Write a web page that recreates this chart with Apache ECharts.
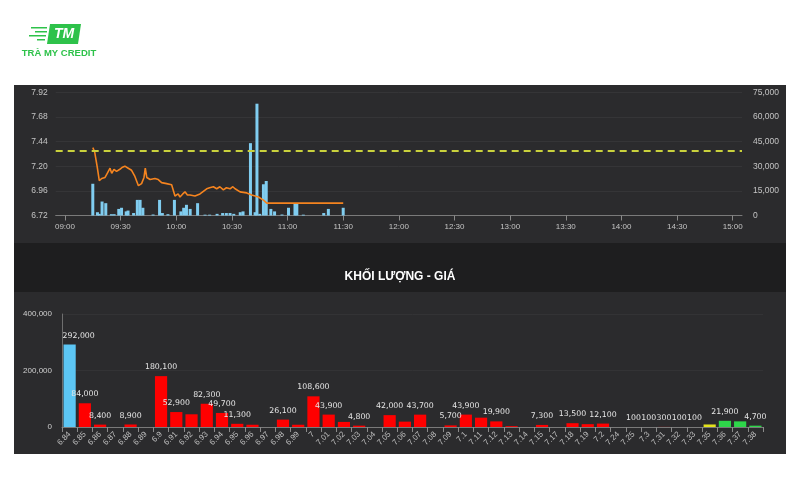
<!DOCTYPE html>
<html><head><meta charset="utf-8">
<script src="https://cdn.jsdelivr.net/npm/echarts@6/dist/echarts.min.js"></script>
<style>html,body{margin:0;padding:0;background:#fff}#c{width:800px;height:500px}</style>
</head><body><div id="c"></div>
<script>
// ---------- DATA ----------
// Top chart: minutes after 09:00
const timeTickMinutes = [0, 30, 60, 90, 120, 150, 180, 210, 240, 270, 300, 330, 360];
const volMinutes = [15, 17.5, 18.5, 20, 22, 25, 26.5, 29, 30.5, 33, 34, 37, 39, 40.5, 42, 47.5, 51, 52.5, 55.5, 59, 62.5, 64, 65.5, 67.5, 71.5, 75.5, 78, 82, 85, 87, 89, 91, 94.5, 96, 100, 102.5, 103.5, 105, 107, 108.5, 111, 113, 117, 120.5, 124, 125, 128.5, 139.5, 142, 150];
const volValues = [19300, 2000, 1000, 8500, 7500, 800, 800, 4000, 4700, 2500, 3000, 1500, 9500, 9500, 4700, 600, 9500, 1500, 800, 9500, 2500, 4700, 6500, 4000, 7500, 500, 500, 1000, 1500, 1500, 1500, 1000, 2000, 2500, 44000, 2000, 68000, 1000, 19000, 21000, 4000, 2500, 600, 4700, 7000, 7000, 500, 1500, 4000, 4700];
const priceMinutes = [15, 16, 17.4, 18.5, 19.8, 21.6, 22.5, 23.4, 24.3, 25.2, 26.4, 27.8, 29.6, 31, 32.3, 34.1, 35.9, 37.7, 39.6, 41.3, 42.6, 43.3, 44.1, 45.9, 48.5, 50.3, 52.1, 54.8, 57.5, 59.3, 61, 62, 63.5, 64.7, 66, 67.4, 70.1, 72.8, 76.4, 78, 80, 81.8, 83.5, 85.4, 87, 89, 90.5, 91, 91.7, 94.4, 98, 100.7, 104.3, 107, 108.8, 150];
const priceValues = [7.38, 7.34, 7.19, 7.06, 7.08, 7.09, 7.12, 7.11, 7.18, 7.13, 7.17, 7.15, 7.17, 7.19, 7.20, 7.18, 7.16, 7.10, 7.01, 7.03, 7.09, 7.18, 7.09, 7.07, 7.08, 7.07, 7.04, 7.03, 7.02, 6.91, 6.93, 6.90, 6.93, 6.95, 6.92, 6.92, 6.91, 6.93, 6.98, 6.99, 7.00, 6.98, 7.00, 6.97, 6.99, 6.98, 7.00, 7.01, 6.98, 6.95, 6.94, 6.92, 6.90, 6.87, 6.84, 6.84];
const referencePrice = 7.35;
const floorPrice = 6.84;

// Bottom chart: volume by price
const priceLevels = ['6.84','6.85','6.86','6.87','6.88','6.89','6.9','6.91','6.92','6.93','6.94','6.95','6.96','6.97','6.98','6.99','7','7.01','7.02','7.03','7.04','7.05','7.06','7.07','7.08','7.09','7.1','7.11','7.12','7.13','7.14','7.15','7.17','7.18','7.19','7.2','7.24','7.25','7.3','7.31','7.32','7.33','7.35','7.36','7.37','7.38'];
const levelVolumes = [292000, 84000, 8400, 100, 8900, 100, 180100, 52900, 45000, 82300, 49700, 11300, 8000, 100, 26100, 8000, 108600, 43900, 18000, 4800, 100, 42000, 19000, 43700, 100, 5700, 43900, 33000, 19900, 3000, 100, 7300, 100, 13500, 10000, 12100, 100, 100, 100, 300, 100, 100, 9000, 21900, 20000, 4700];

// ---------- HELPERS ----------
const fmt = v => String(v).replace(/\B(?=(\d{3})+(?!\d))/g, ',');
const pad = n => (n < 10 ? '0' : '') + n;
const hhmm = m => pad(9 + Math.floor(m / 60)) + ':' + pad(m % 60);
const levelColor = p => {
  const v = parseFloat(p);
  if (Math.abs(v - floorPrice) < 1e-9) return '#5cc6f4';
  if (Math.abs(v - referencePrice) < 1e-9) return '#e3e21c';
  return v > referencePrice ? '#2ed64a' : '#ff0000';
};

const volData = volMinutes.map((m, i) => [m, volValues[i]]);
const priceData = priceMinutes.map((m, i) => [m, priceValues[i]]);
const levelData = levelVolumes.map((v, i) => {
  const d = { value: v, itemStyle: { color: levelColor(priceLevels[i]) } };
  if (i === 0) d.label = { position: [-1, -5], align: 'left', verticalAlign: 'bottom' };
  return d;
});

const axisFont = 'Liberation Sans, Arial, sans-serif';
const chart = echarts.init(document.getElementById('c'), null, { renderer: 'canvas' });
chart.setOption({
  backgroundColor: '#ffffff',
  animation: false,
  title: {
    text: 'KHỐI LƯỢNG - GIÁ', left: 'center', top: 266,
    textStyle: { color: '#ffffff', fontSize: 12, fontWeight: 'bold', fontFamily: axisFont }
  },
  graphic: [
    { type: 'rect', z: -10, shape: { x: 14, y: 85, width: 772, height: 158 }, style: { fill: '#2b2b2d' }, silent: true },
    { type: 'rect', z: -10, shape: { x: 14, y: 243, width: 772, height: 49 }, style: { fill: '#1e1e1f' }, silent: true },
    { type: 'rect', z: -10, shape: { x: 14, y: 292, width: 772, height: 162 }, style: { fill: '#2b2b2d' }, silent: true },
    // logo
    { type: 'polygon', shape: { points: [[50, 24], [81, 24], [78, 44], [47, 44]] }, style: { fill: '#2ec24a' }, silent: true },
    { type: 'rect', shape: { x: 31, y: 27, width: 16, height: 1.5 }, style: { fill: '#2ec24a' }, silent: true },
    { type: 'rect', shape: { x: 35, y: 31, width: 12, height: 1.5 }, style: { fill: '#2ec24a' }, silent: true },
    { type: 'rect', shape: { x: 29, y: 35, width: 17, height: 1.5 }, style: { fill: '#2ec24a' }, silent: true },
    { type: 'rect', shape: { x: 37, y: 39, width: 8, height: 1.5 }, style: { fill: '#2ec24a' }, silent: true },
    { type: 'text', x: 64, y: 34.5, style: { text: 'TM', fill: '#ffffff', font: 'italic bold 14px Liberation Sans, Arial', align: 'center', verticalAlign: 'middle' }, silent: true },
    { type: 'text', x: 59, y: 53, style: { text: 'TRÀ MY CREDIT', fill: '#2ec24a', font: 'bold 9.5px Liberation Sans, Arial', align: 'center', verticalAlign: 'middle' }, silent: true }
  ],
  grid: [
    { left: 55.7, right: 58, top: 92.2, height: 123.3 },
    { left: 62, right: 37, top: 314, height: 113 }
  ],
  xAxis: [
    {
      type: 'value', gridIndex: 0, min: -5, max: 365,
      axisLine: { lineStyle: { color: '#7a7a7a' } },
      axisTick: { show: true, length: 5, lineStyle: { color: '#8a8a8a' }, customValues: timeTickMinutes },
      axisLabel: { color: '#c4c4c4', fontSize: 8, fontFamily: axisFont, margin: 7, customValues: timeTickMinutes, formatter: v => hhmm(v) },
      splitLine: { show: false }
    },
    {
      type: 'category', gridIndex: 1, data: priceLevels,
      axisLine: { lineStyle: { color: '#7a7a7a' } },
      axisTick: { show: true, length: 5, interval: 0, lineStyle: { color: '#8a8a8a' } },
      axisLabel: { color: '#bdbdbd', fontSize: 8, fontFamily: axisFont, rotate: 45, interval: 0, margin: 6 }
    }
  ],
  yAxis: [
    {
      type: 'value', gridIndex: 0, min: 6.72, max: 7.92, interval: 0.24,
      axisLine: { show: false }, axisTick: { show: false },
      axisLabel: { color: '#c4c4c4', fontSize: 8.5, fontFamily: axisFont, margin: 8, formatter: v => v.toFixed(2) },
      splitLine: { lineStyle: { color: '#353537', width: 1 } }
    },
    {
      type: 'value', gridIndex: 0, min: 0, max: 75000, interval: 15000, position: 'right',
      axisLine: { show: false }, axisTick: { show: false },
      axisLabel: { color: '#c4c4c4', fontSize: 8.5, fontFamily: axisFont, margin: 11, formatter: v => fmt(v) },
      splitLine: { show: false }
    },
    {
      type: 'value', gridIndex: 1, min: 0, max: 400000, interval: 200000,
      axisLine: { show: true, lineStyle: { color: '#6e6e6e' } }, axisTick: { show: false },
      axisLabel: { color: '#d0d0d0', fontSize: 8, fontFamily: axisFont, margin: 10, formatter: v => fmt(v) },
      splitLine: { lineStyle: { color: '#333335' } }
    }
  ],
  series: [
    {
      type: 'bar', xAxisIndex: 0, yAxisIndex: 1, data: volData, barWidth: 3,
      itemStyle: { color: '#80cdf0' }, z: 2
    },
    {
      type: 'line', xAxisIndex: 0, yAxisIndex: 0, data: priceData, showSymbol: false,
      lineStyle: { color: '#f5841f', width: 1.6 }, itemStyle: { color: '#f5841f' }, z: 3,
      markLine: {
        silent: true, symbol: 'none', label: { show: false },
        lineStyle: { color: '#c9d13c', type: [7, 5], width: 1.8 },
        data: [{ yAxis: referencePrice }]
      }
    },
    {
      type: 'bar', xAxisIndex: 1, yAxisIndex: 2, data: levelData, barCategoryGap: '20%',
      label: {
        show: true, position: 'top', distance: 5, color: '#e6e6e6',
        fontFamily: 'DejaVu Sans', fontSize: 7.8, formatter: p => fmt(p.value)
      },
      labelLayout: { hideOverlap: true }
    }
  ]
});
</script>
</body></html>
